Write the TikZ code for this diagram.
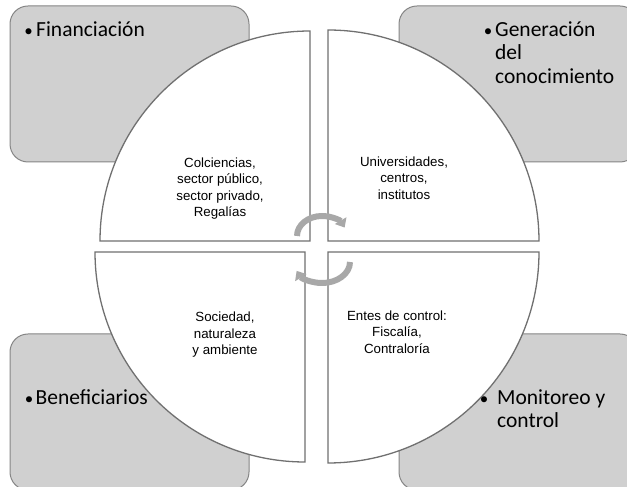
\documentclass[tikz,border=0pt]{standalone}
\usepackage{fontspec}
\usetikzlibrary{arrows.meta}
\newfontfamily\boxfont{Carlito}
\newfontfamily\quadfont{Liberation Sans}
\definecolor{boxfill}{HTML}{D0D0D0}
\definecolor{boxedge}{HTML}{858585}
\definecolor{quadedge}{HTML}{707070}
\definecolor{arrowgray}{HTML}{A8A8A8}
\newcommand{\bul}[1]{\makebox[0pt][c]{\fontsize{17}{17}\selectfont\raisebox{0.5pt}{•}}\hspace{#1}}
\begin{document}
\begin{tikzpicture}[x=1pt,y=1pt,
  graybox/.style={draw=boxedge, fill=boxfill, rounded corners=18pt, line width=1pt,
    minimum width=239pt, minimum height=156pt, inner sep=0pt},
  quad/.style={draw=quadedge, fill=white, line width=1.3pt},
  boxlabel/.style={font=\boxfont\fontsize{21.5}{24}\selectfont, anchor=base west, inner sep=0pt},
  quadlabel/.style={font=\quadfont\fontsize{13.3}{16.5}\selectfont, align=center, inner sep=0pt},
  cyc/.style={draw=arrowgray, line width=6pt, -{Triangle[width=13pt,length=8pt]}}]
\useasboundingbox (0,0) rectangle (627,487);
\clip (0,0) rectangle (627,487);
% corner boxes
\node[graybox] (fin) at (129.5,403) {};
\node[graybox] (gen) at (518.5,403) {};
\node[graybox] (ben) at (129.5,75) {};
\node[graybox] (mon) at (518.5,75) {};
% quadrants
\draw[quad] (310,246) -- (100,246) arc[start angle=180, end angle=90, radius=210pt] -- cycle;
\draw[quad] (328,246) -- (328,457) arc[start angle=90, end angle=0, radius=211pt] -- cycle;
\draw[quad] (305,235) -- (95,235) arc[start angle=180, end angle=270, radius=210pt] -- cycle;
\draw[quad] (328,235) -- (539,235) arc[start angle=0, end angle=-90, radius=211pt] -- cycle;
% cycle arrows
\draw[cyc] (297,251) arc[start angle=180, end angle=25, x radius=25pt, y radius=20pt];
\draw[cyc] (350,225) arc[start angle=0, end angle=-155, x radius=28pt, y radius=21pt];
% box labels
\node[boxlabel] (finl) at (28.5,450) {\bul{7.5pt}Financiación};
\node[boxlabel] (genl1) at (488,450) {\bul{7pt}Generación};
\node[boxlabel] (genl2) at (495,427) {del};
\node[boxlabel] (genl3) at (495,403) {conocimiento};
\node[boxlabel] (benl) at (29,82) {\bul{6.5pt}Beneficiarios};
\node[boxlabel] (monl1) at (484,82) {\bul{13pt}Monitoreo y};
\node[boxlabel] (monl2) at (497,59) {control};
% quadrant labels
\node[quadlabel] (q1) at (220,298.5) {Colciencias,\\sector público,\\sector privado,\\Regalías};
\node[quadlabel] (q2) at (404,309) {Universidades,\\centros,\\institutos};
\node[quadlabel] (q3) at (225,152) {Sociedad,\\naturaleza\\y ambiente};
\node[quadlabel] (q4) at (397,155) {Entes de control:\\Fiscalía,\\Contraloría};
\end{tikzpicture}
\end{document}
